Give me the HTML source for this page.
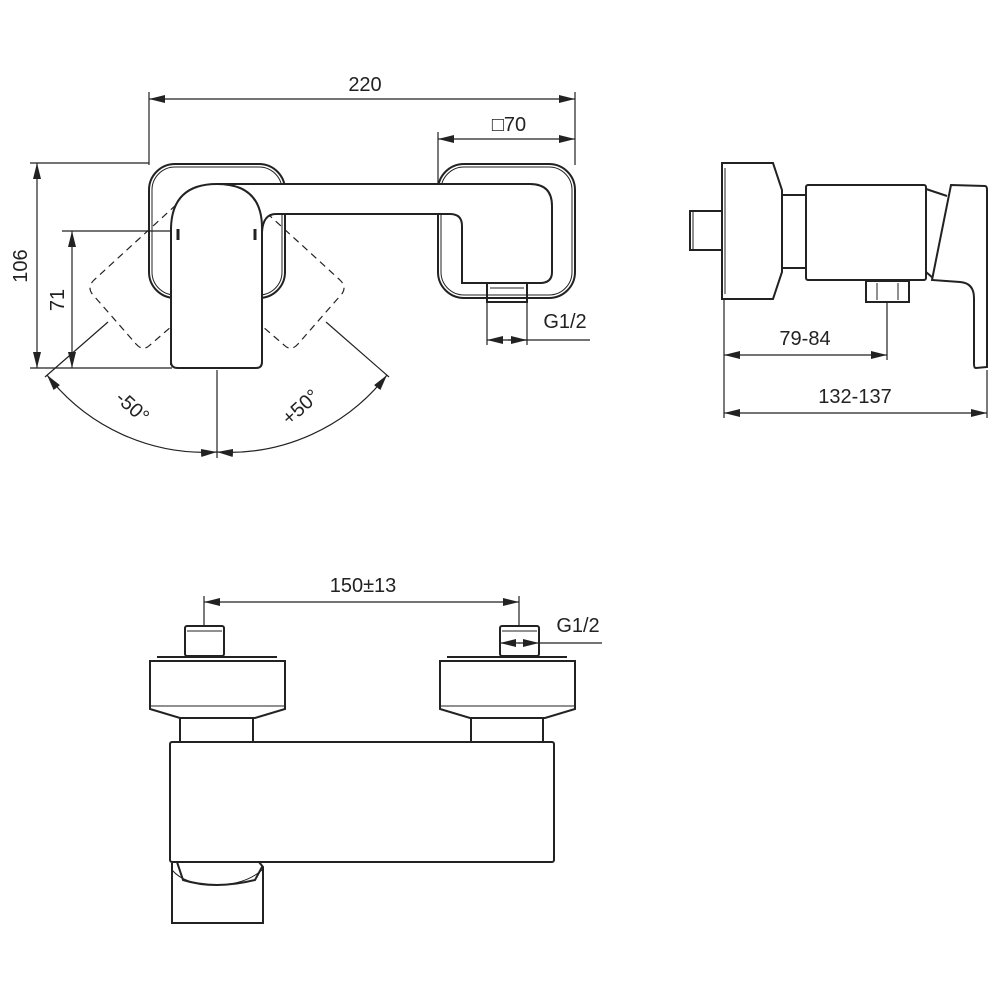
<!DOCTYPE html>
<html><head><meta charset="utf-8"><style>html,body{margin:0;padding:0;background:#fff}svg{display:block}text{font-family:"Liberation Sans",sans-serif;fill:#222}</style></head><body>
<svg width="1000" height="1000" viewBox="0 0 1000 1000" xmlns="http://www.w3.org/2000/svg">
<defs>
<marker id="a" viewBox="0 0 16 8" refX="16" refY="4" markerWidth="16" markerHeight="8" markerUnits="userSpaceOnUse" orient="auto-start-reverse"><path d="M0,0 L16,4 L0,8 Z" fill="#222"/></marker>
</defs>
<g fill="none" stroke="#222" stroke-width="1.2">
<line x1="149" y1="92" x2="149" y2="165"/><line x1="575" y1="92" x2="575" y2="165"/>
<line x1="149" y1="99" x2="575" y2="99" marker-start="url(#a)" marker-end="url(#a)"/>
<line x1="438" y1="132" x2="438" y2="185"/>
<line x1="438" y1="139" x2="575" y2="139" marker-start="url(#a)" marker-end="url(#a)"/>
<line x1="30" y1="163" x2="149" y2="163"/><line x1="30" y1="368" x2="172" y2="368"/>
<line x1="37" y1="163" x2="37" y2="368" marker-start="url(#a)" marker-end="url(#a)"/>
<line x1="62" y1="231" x2="213" y2="231"/>
<line x1="72" y1="231" x2="72" y2="368" marker-start="url(#a)" marker-end="url(#a)"/>
<line x1="108" y1="322" x2="45" y2="377"/><line x1="326" y1="322" x2="389" y2="377"/>
<line x1="217" y1="370" x2="217" y2="458"/>
<path d="M47,375 A200,200 0 0 0 217,452" marker-start="url(#a)" marker-end="url(#a)"/>
<path d="M387,375 A200,200 0 0 1 217,452" marker-start="url(#a)" marker-end="url(#a)"/>
<line x1="487" y1="302" x2="487" y2="345"/><line x1="527" y1="302" x2="527" y2="345"/>
<line x1="487" y1="340" x2="507" y2="340" marker-start="url(#a)"/>
<line x1="507" y1="340" x2="590" y2="340"/>
<line x1="527" y1="340" x2="508" y2="340" marker-start="url(#a)"/>
<line x1="724" y1="300" x2="724" y2="418"/><line x1="887" y1="302" x2="887" y2="360"/><line x1="987" y1="370" x2="987" y2="418"/>
<line x1="724" y1="355" x2="887" y2="355" marker-start="url(#a)" marker-end="url(#a)"/>
<line x1="724" y1="413" x2="987" y2="413" marker-start="url(#a)" marker-end="url(#a)"/>
<line x1="204" y1="596" x2="204" y2="625"/><line x1="519" y1="596" x2="519" y2="625"/>
<line x1="204" y1="602" x2="519" y2="602" marker-start="url(#a)" marker-end="url(#a)"/>
<line x1="500" y1="643" x2="520" y2="643" marker-start="url(#a)"/>
<line x1="539" y1="643" x2="519" y2="643" marker-start="url(#a)"/>
<line x1="539" y1="643" x2="602" y2="643"/>
<g stroke-dasharray="7,5">
<path d="M176,205 L94,280 Q86,288 94,296 L136,344 Q143,352 150,345 L172,326"/>
<path d="M258,205 L340,280 Q348,288 340,296 L298,344 Q291,352 284,345 L262,326"/>
</g>
</g>
<g fill="none" stroke="#222" stroke-width="2">
<rect x="149" y="164" width="136" height="134" rx="26"/>
<rect x="152" y="167" width="130" height="128" rx="23" stroke-width="1"/>
<rect x="438" y="164" width="137" height="134" rx="26" fill="#fff"/>
<rect x="441" y="167" width="131" height="128" rx="23" stroke-width="1"/>
<path d="M215,184 L530,184 Q552,184 552,206 L552,272 Q552,283 540,283 L462,283 L462,226 Q462,214 450,214 L276,214 Q263,214 262,232" fill="#fff"/>
<path d="M171,365 L171,228 Q172,184 217,184 Q262,184 262,228 L262,362 Q262,368 256,368 L178,368 Q171,368 171,362 Z" fill="#fff"/>
<line x1="178" y1="229" x2="178" y2="240" stroke-width="3"/><line x1="255" y1="229" x2="255" y2="240" stroke-width="3"/>
<rect x="487" y="283" width="40" height="19"/><line x1="490" y1="288" x2="524" y2="288" stroke-width="1"/>
<rect x="690" y="211" width="32" height="39"/>
<line x1="693" y1="211" x2="693" y2="250" stroke-width="1"/>
<path d="M722,163 L773,163 L782,190 L782,272 L773,299 L722,299 Z" fill="#fff"/>
<line x1="725" y1="168" x2="725" y2="294" stroke-width="1"/>
<rect x="782" y="195" width="24" height="73"/>
<rect x="806" y="185" width="120" height="95" rx="2" fill="#fff"/>
<rect x="866" y="281" width="43" height="21"/><line x1="877" y1="283" x2="877" y2="300" stroke-width="1"/><line x1="898" y1="283" x2="898" y2="300" stroke-width="1"/>
<path d="M926,189 L947,196"/><path d="M926,272 L933,278"/>
<path d="M951,185 L985,186 Q987,186 987,190 L987,367 L976,368 Q974,368 974,364 L974,298 Q974,283 960,282 L932,280 Z" fill="#fff"/>
<rect x="185" y="626" width="39" height="30" rx="2"/><line x1="187" y1="631" x2="222" y2="631" stroke-width="1"/>
<rect x="500" y="626" width="39" height="30" rx="2"/><line x1="502" y1="631" x2="537" y2="631" stroke-width="1"/>
<line x1="157" y1="657" x2="277" y2="657"/><line x1="447" y1="657" x2="567" y2="657"/>
<path d="M150,661 L285,661 L285,709 L255,718 L180,718 L150,709 Z" fill="#fff"/>
<line x1="151" y1="706" x2="284" y2="706" stroke-width="1"/>
<path d="M440,661 L575,661 L575,709 L545,718 L470,718 L440,709 Z" fill="#fff"/>
<line x1="441" y1="706" x2="574" y2="706" stroke-width="1"/>
<rect x="180" y="718" width="73" height="24"/>
<rect x="471" y="718" width="72" height="24"/>
<rect x="170" y="742" width="384" height="120" rx="2" fill="#fff"/>
<path d="M172,863 L172,923 L263,923 L263,867 L259,862 M177,862 L183,880 Q215,890 255,880 L262,867"/>
<path d="M172,870 Q185,885 215,885 Q245,885 262,870" stroke-width="1"/>
</g>
<g font-size="20">
<text x="365" y="91" text-anchor="middle">220</text>
<text x="509" y="131" text-anchor="middle">□70</text>
<text transform="translate(27,266) rotate(-90)" text-anchor="middle">106</text>
<text transform="translate(64,300) rotate(-90)" text-anchor="middle">71</text>
<text transform="translate(128,412) rotate(42)" text-anchor="middle">-50°</text>
<text transform="translate(305,412) rotate(-42)" text-anchor="middle">+50°</text>
<text x="565" y="328" text-anchor="middle">G1/2</text>
<text x="805" y="345" text-anchor="middle">79-84</text>
<text x="855" y="403" text-anchor="middle">132-137</text>
<text x="363" y="592" text-anchor="middle">150±13</text>
<text x="578" y="632" text-anchor="middle">G1/2</text>
</g>
</svg>
</body></html>
